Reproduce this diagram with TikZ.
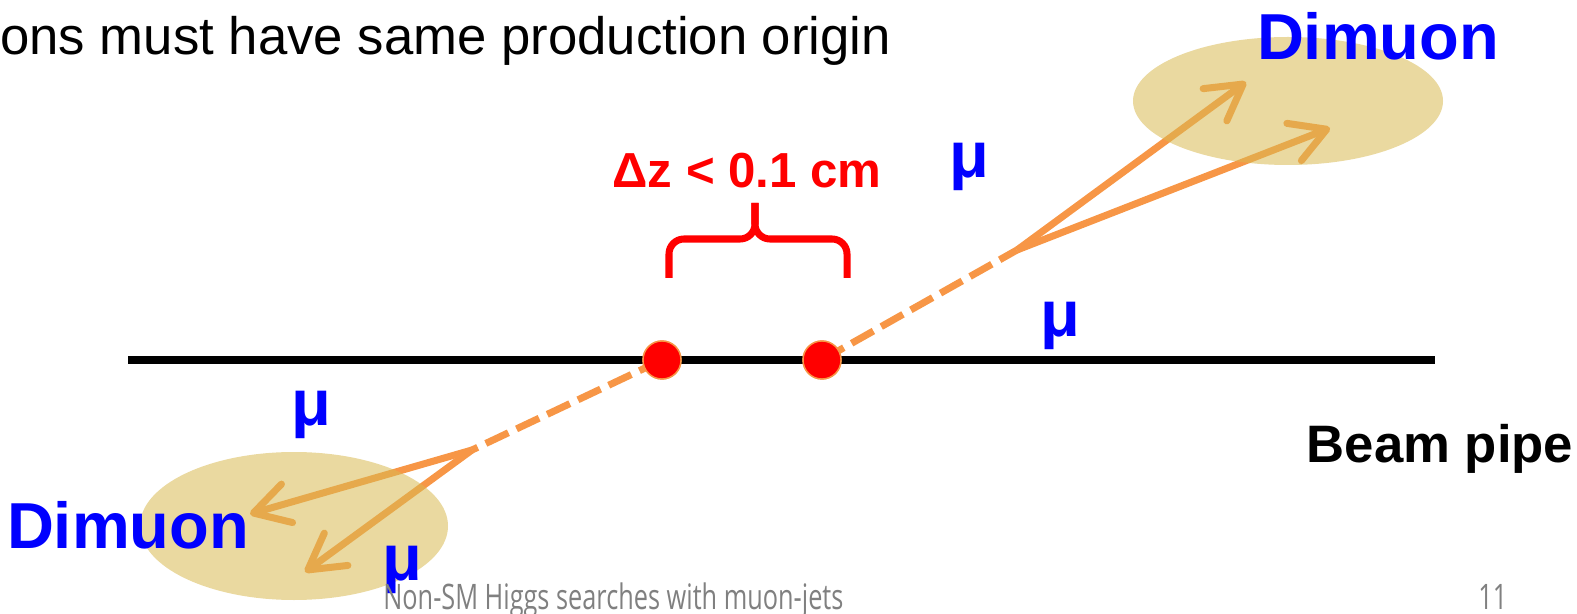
\documentclass[tikz,border=0pt]{standalone}
\usepackage{fontspec}
\setmainfont{Liberation Sans}
\newfontfamily\footfont[FakeStretch=0.72]{Open Sans}
\usetikzlibrary{arrows.meta}
\definecolor{trackorange}{RGB}{247,150,70}
\definecolor{blobtan}{RGB}{217,186,82}
\definecolor{muonblue}{RGB}{0,0,255}
\begin{document}
\begin{tikzpicture}[x=0.02cm,y=-0.02cm,
        track/.style={draw=trackorange,line width=4pt},
        fakeline/.style={track,dash pattern=on 0.5cm off 0.18cm},
        muonarrow/.style={track,-{Straight Barb[length=0.7cm,width=0.8cm,round]}},
        vtx/.style={circle,fill=red,draw=trackorange,line width=0.8pt,minimum size=0.76cm,inner sep=0pt},
        blob/.style={fill=blobtan,opacity=0.55},
        muon/.style={text=muonblue,anchor=base,font=\fontsize{37}{40}\selectfont\bfseries},
        footer/.style={text=black!50,anchor=base west,font=\footfont\fontsize{20}{22}\selectfont}]
    \useasboundingbox (0,0) rectangle (1577,614);

    % Title line
    \node[anchor=base west,inner sep=0pt,font=\fontsize{30}{34}\selectfont] (title) at (0,55) {ons must have same production origin};

    % Beam pipe
    \coordinate (beamL) at (128,360);
    \coordinate (beamR) at (1435,360);
    \draw[line width=4pt] (beamL) -- (beamR);
    \node[anchor=base,inner sep=0pt,font=\fontsize{30}{34}\selectfont\bfseries] (pipe) at (1440,462) {Beam pipe};

    % Vertices
    \node[vtx] (v1) at (662,360) {};
    \node[vtx] (v2) at (822,360) {};

    % Decay points and muon ends
    \coordinate (splitA) at (1017,250);
    \coordinate (splitB) at (472,450);
    \coordinate (muA1) at (1246,82);
    \coordinate (muA2) at (1330,128);
    \coordinate (muB1) at (250,514);
    \coordinate (muB2) at (305,572);

    % Tracks
    \draw[fakeline] (v2.center) -- (splitA);
    \draw[fakeline] (v1.center) -- (splitB);
    \node[vtx] at (v1) {};
    \node[vtx] at (v2) {};
    \draw[muonarrow] (splitA) -- (muA1);
    \draw[muonarrow] (splitA) -- (muA2);
    \draw[muonarrow] (splitB) -- (muB1);
    \draw[muonarrow] (splitB) -- (muB2);

    % Dimuon blobs
    \fill[blob] (1288,101) ellipse [x radius=155,y radius=64];
    \fill[blob] (294,526) ellipse [x radius=154,y radius=74];

    % Brace
    \draw[red,line width=4pt,rounded corners=0.3cm] (669,278) |- (755,239) -- (755,203);
    \draw[red,line width=4pt,rounded corners=0.3cm] (847,278) |- (755,239) -- (755,203);
    \node[anchor=base,inner sep=0pt,text=red,font=\fontsize{28}{32}\selectfont\bfseries] (dz) at (747,188) {Δz < 0.1 cm};

    % Labels
    \node[muon] (dimA) at (1378,60) {Dimuon};
    \node[muon] (dimB) at (128,548) {Dimuon};
    \node[muon] (mu1) at (969,178) {μ};
    \node[muon] (mu2) at (1060,337) {μ};
    \node[muon] (mu3) at (311,425) {μ};
    \node[muon] (mu4) at (402,580) {μ};

    % Footer
    \node[footer,inner sep=0pt] (foot) at (383,609) {Non-SM Higgs searches with muon-jets};
    \node[footer,inner sep=0pt] (page) at (1478,609) {11};
\end{tikzpicture}
\end{document}
